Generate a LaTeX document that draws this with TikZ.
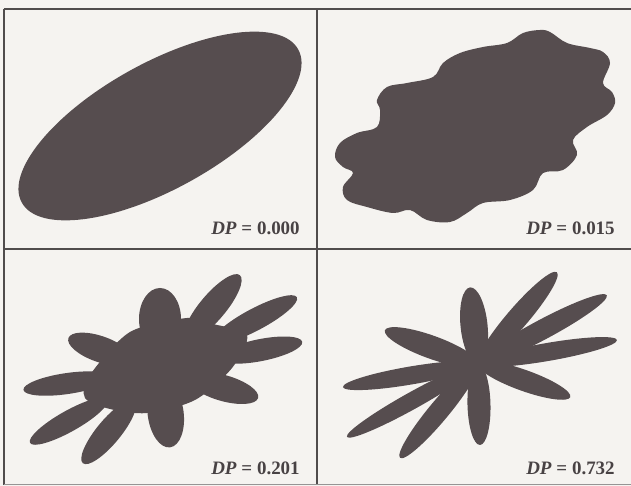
\documentclass[tikz,border=0pt]{standalone}
\usepackage{fontspec}
\setmainfont{Liberation Serif}
\usepackage{xcolor}

\definecolor{paper}{RGB}{245,243,240}
\definecolor{shapegray}{RGB}{86,77,79}
\definecolor{rulegray}{RGB}{80,76,76}
\definecolor{labelgray}{RGB}{72,66,68}

\tikzset{
  blob/.style={fill=shapegray},
  rule/.style={draw=rulegray, line width=0.5mm},
  dplabel/.style={anchor=base east, inner sep=0pt, text=labelgray,
    font=\fontsize{13.5}{16}\selectfont\bfseries},
}
% angle, length, half width
\newcommand{\petal}[3]{\fill[blob, rotate=#1] (#2/2,0) ellipse [x radius=#2/2, y radius=#3];}
% angle, start, tip, half width
\newcommand{\lobe}[4]{\fill[blob, rotate=#1] ({(#2+#3)/2},0) ellipse [x radius={(#3-#2)/2}, y radius=#4];}

\begin{document}
\begin{tikzpicture}[x=0.25mm, y=-0.25mm]
\useasboundingbox (0,0) rectangle (631,486);
\fill[paper] (0,0) rectangle (631,486);

% DP = 0.000
\fill[blob, rotate around={29:(160,126)}] (160,126) ellipse [x radius=158, y radius=63];

% DP = 0.015
\fill[blob] plot[smooth cycle, tension=0.6] coordinates {
  (550,32) (567,43) (590,48) (603,52) (610,63) (603,83) (612,92) (615,103)
  (607,115) (587,127) (573,140) (577,155) (563,170) (543,173) (533,190)
  (510,200) (483,203) (467,213) (450,222) (427,220) (410,210) (393,213)
  (367,207) (347,200) (343,187) (353,173) (343,167) (335,157) (340,143)
  (357,133) (377,127) (380,110) (377,100) (387,87) (407,83) (433,77)
  (443,63) (460,53) (483,47) (507,43) (523,33) (540,30)};

% DP = 0.201
\fill[blob] plot[smooth cycle] coordinates {
  (187,318) (213,324) (247,335) (232,368) (195,400) (147,413)
  (110,409) (85,398) (90,375) (130,332)};
\begin{scope}[shift={(160,370)}]
\lobe{90}{20}{82}{21}
\lobe{49.9}{40}{124}{13}
\lobe{28.0}{60}{155}{11}
\lobe{11.2}{60}{145}{11}
\lobe{-15.9}{30}{102}{13}
\lobe{-82.6}{10}{78}{18}
\lobe{230.4}{40}{121}{12}
\lobe{209.3}{60}{149}{10.5}
\lobe{188.3}{50}{138}{10.5}
\lobe{160.8}{30}{97}{13}
\end{scope}

% DP = 0.732
\begin{scope}[shift={(478,364)}]
\petal{95.9}{77}{13.5}
\petal{49.3}{121}{10.5}
\petal{28.1}{146}{10}
\petal{9.8}{141}{9}
\petal{-19.7}{98}{10.5}
\petal{-88.6}{81}{11.5}
\petal{230.3}{122}{10}
\petal{209.1}{150}{8.5}
\petal{189.7}{137}{9}
\petal{160.1}{99}{11.5}
\end{scope}

% frame
\draw[rule] (4,9) -- (631,9);
\draw[rule] (4,249) -- (631,249);
\draw[rule] (4,9) -- (4,485);
\draw[rule] (317,9) -- (317,485);
\draw[rule, line width=0.25mm, draw=rulegray!60] (4,485) -- (631,485);

\node[dplabel] (dpA) at (300,235) {\textit{DP} = 0.000};
\node[dplabel] (dpB) at (615,235) {\textit{DP} = 0.015};
\node[dplabel] (dpC) at (300,475) {\textit{DP} = 0.201};
\node[dplabel] (dpD) at (615,475) {\textit{DP} = 0.732};
\end{tikzpicture}
\end{document}
